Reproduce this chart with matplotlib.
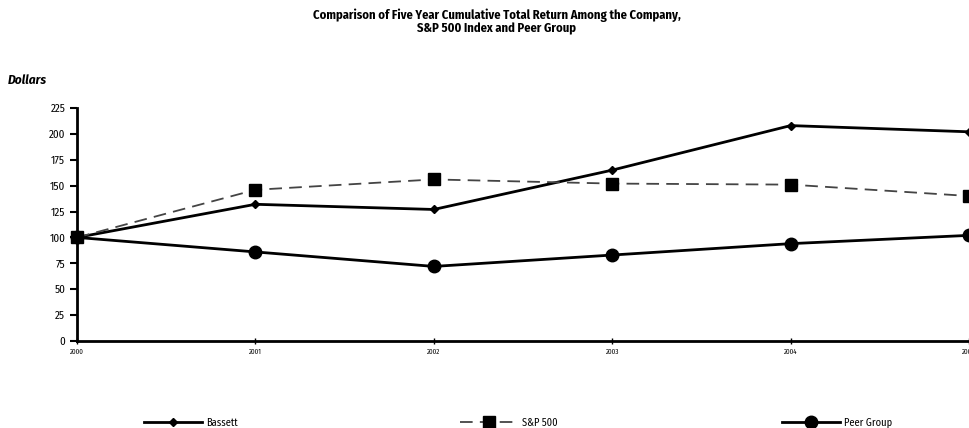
import matplotlib.pyplot as plt
from matplotlib import font_manager

years = [2000, 2001, 2002, 2003, 2004, 2005]
bassett = [100, 132, 127, 165, 208, 202]
sp500 = [100, 146, 156, 152, 151, 140]
peer = [100, 86, 72, 83, 94, 102]
yticks = [0, 25, 50, 75, 100, 125, 150, 175, 200, 225]

# condensed face similar to the original print, if one is installed
names = {f.name for f in font_manager.fontManager.ttflist}
wanted = ["Fira Sans Condensed", "Roboto Condensed", "PT Sans Narrow", "Archivo Narrow",
          "Liberation Sans Narrow", "Encode Sans Condensed", "Asap Condensed", "Open Sans Condensed"]
narrow = next((n for n in wanted if n in names), "DejaVu Sans")
plt.rcParams['font.family'] = [narrow, 'DejaVu Sans']

fig = plt.figure(figsize=(9.7, 4.28), dpi=100)
ax = fig.add_axes([0.0794, 0.2033, 0.9196, 0.5444])

ax.plot(years, bassett, color='black', lw=2, marker='D', ms=4.5, label='Bassett', clip_on=False, zorder=3)
ax.plot(years, sp500, color='#444444', lw=1.3, ls=(0, (7, 4)), marker='s', ms=9,
        mfc='black', mec='black', label='S&P 500', clip_on=False, zorder=3)
ax.plot(years, peer, color='black', lw=2, marker='o', ms=9, label='Peer Group', clip_on=False, zorder=3)

ax.set_xlim(2000, 2005)
ax.set_ylim(0, 225)
ax.set_yticks(yticks)
ax.set_xticks(years)
ax.set_xticklabels([str(y) for y in years], fontsize=5)
ax.tick_params(axis='y', labelsize=8, length=5, width=1.5, direction='out')
ax.tick_params(axis='x', length=4, width=1, direction='inout', pad=3)
for s in ['top', 'right']:
    ax.spines[s].set_visible(False)
for s in ['left', 'bottom']:
    ax.spines[s].set_linewidth(2)

fig.text(0.512, 0.98, "Comparison of Five Year Cumulative Total Return Among the Company,\nS&P 500 Index and Peer Group",
         ha='center', va='top', fontsize=9, fontweight='bold', linespacing=1.1)
fig.text(0.008, 0.812, "Dollars", ha='left', va='center', fontsize=9.5, fontweight='bold', style='italic')

handles, labels = ax.get_legend_handles_labels()
xpos = [0.148, 0.474, 0.806]
for h, l, x in zip(handles, labels, xpos):
    fig.legend([h], [l], loc='center left', bbox_to_anchor=(x, 0.012), frameon=False,
               fontsize=7.5, handlelength=5.6, handletextpad=0.4, borderaxespad=0, borderpad=0)

fig.savefig('out.png', dpi=100)
